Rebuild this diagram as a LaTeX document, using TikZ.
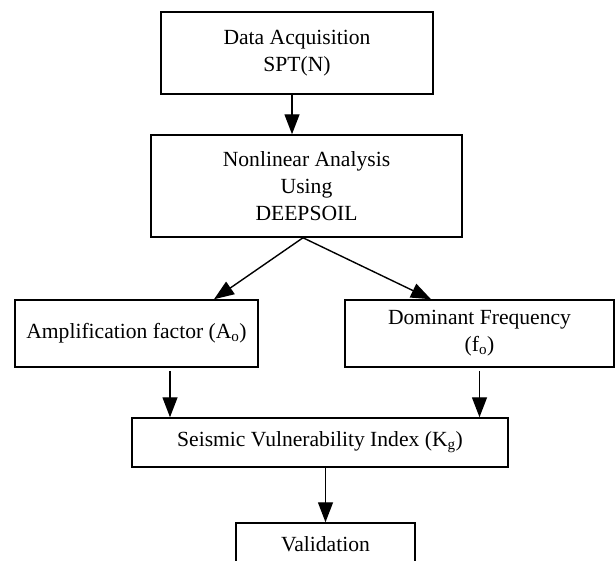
\documentclass[tikz,border=0pt]{standalone}
\usepackage{fontspec}
\setmainfont{Liberation Serif}
\usetikzlibrary{arrows.meta}

\tikzset{
  stage/.style={draw, line width=1.5pt, align=center, inner sep=0pt,
    font=\fontsize{21.6}{26.8}\selectfont},
  flow/.style={line width=1.4pt, -{Triangle[length=20pt,width=15pt]}}
}

\begin{document}
\begin{tikzpicture}[x=1pt,y=-1pt]
\useasboundingbox (0,0) rectangle (615,560);
\node[stage, minimum width=272pt, minimum height=82pt] (acq) at (297,53) {Data Acquisition\\SPT(N)};
\node[stage, minimum width=311pt, minimum height=102pt] (nla) at (306.5,186) {Nonlinear Analysis\\Using\\DEEPSOIL};
\node[stage, minimum width=243pt, minimum height=67pt] (amp) at (136.5,333.5) {Amplification factor (A\textsubscript{o})};
\node[stage, minimum width=269pt, minimum height=67pt] (dom) at (479.5,333.5) {Dominant Frequency\\(f\textsubscript{o})};
\node[stage, minimum width=376pt, minimum height=49pt] (svi) at (320,442.5) {Seismic Vulnerability Index (K\textsubscript{g})};
\node[stage, minimum width=179pt, minimum height=42pt] (val) at (325.5,544) {Validation};

\draw[flow] ([xshift=-5pt]acq.south) -- ([xshift=-5pt]acq.south |- nla.north);
\draw[flow] ([xshift=-3.5pt]nla.south) -- ([xshift=77.5pt]amp.north);
\draw[flow] ([xshift=-3.5pt]nla.south) -- ([xshift=-48.5pt]dom.north);
\draw[flow, shorten <=3pt] ([xshift=33.5pt]amp.south) -- ([xshift=33.5pt]amp.south |- svi.north);
\draw[flow, shorten <=3pt] (dom.south) -- (dom.south |- svi.north);
\draw[flow] (svi.south -| val.north) -- (val.north);
\end{tikzpicture}
\end{document}
